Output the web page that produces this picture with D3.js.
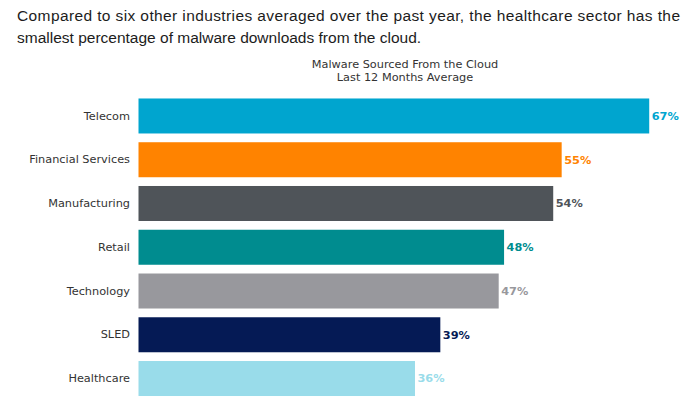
<!DOCTYPE html>
<html>
<head>
<meta charset="utf-8">
<script src="https://cdn.jsdelivr.net/npm/d3@7"></script>
<style>
  html, body { margin: 0; padding: 0; background: #ffffff; }
  svg { display: block; }
</style>
</head>
<body>
<div id="chart"></div>
<script>
// ---- data ----
const categories = ["Telecom", "Financial Services", "Manufacturing", "Retail", "Technology", "SLED", "Healthcare"];
// percentages (labels show them rounded)
const values = [66.5, 55.1, 54.0, 47.6, 46.9, 39.3, 36.0];
const colors = ["#00a5cf", "#ff8300", "#4f5459", "#008c8f", "#98989d", "#051a55", "#99dcea"];
const headlineLines = [
  "Compared to six other industries averaged over the past year, the healthcare sector has the",
  "smallest percentage of malware downloads from the cloud."
];
const chartTitleLines = ["Malware Sourced From the Cloud", "Last 12 Months Average"];

// ---- layout ----
const W = 700, H = 400;
const svg = d3.select("#chart").append("svg").attr("width", W).attr("height", H);

// headline
const headline = svg.append("g")
  .attr("font-family", "'Liberation Sans', Arial, sans-serif")
  .attr("font-size", 15.5)
  .attr("fill", "#1c1c1c");
headline.append("text").attr("x", 17).attr("y", 21)
  .attr("textLength", 663).attr("lengthAdjust", "spacing")
  .text(headlineLines[0]);
headline.append("text").attr("x", 17).attr("y", 43)
  .text(headlineLines[1]);

// chart title
svg.append("g")
  .attr("font-family", "'DejaVu Sans', sans-serif")
  .attr("font-size", 11.3)
  .attr("fill", "#333333")
  .attr("text-anchor", "middle")
  .selectAll("text").data(chartTitleLines).join("text")
  .attr("x", 405)
  .attr("y", (d, i) => 68 + i * 12.5)
  .text(d => d);

// scales
const x = d3.scaleLinear().domain([0, 100]).range([138.5, 906.5]);
const y = d3.scaleBand().domain(categories).range([94.1, 400.4]).paddingInner(0.2).paddingOuter(0.1);

const data = categories.map((c, i) => ({ cat: c, value: values[i], color: colors[i] }));

// bars
svg.append("g").selectAll("rect").data(data).join("rect")
  .attr("x", x(0))
  .attr("y", d => y(d.cat))
  .attr("width", d => x(d.value) - x(0))
  .attr("height", y.bandwidth())
  .attr("fill", d => d.color);

// category axis
const yAxis = svg.append("g")
  .attr("transform", `translate(${x(0) - 8.5},0)`)
  .call(d3.axisLeft(y).tickSize(0).tickPadding(0));
yAxis.select(".domain").remove();
yAxis.selectAll("text")
  .attr("font-family", "'DejaVu Sans', sans-serif")
  .attr("font-size", 11.3)
  .attr("fill", "#333333");

// value labels
const fmt = v => d3.format(".0f")(v) + "%";
svg.append("g").selectAll("text").data(data).join("text")
  .attr("x", d => x(d.value) + 2.5)
  .attr("y", d => y(d.cat) + y.bandwidth() / 2)
  .attr("dy", "0.35em")
  .attr("font-family", "'DejaVu Sans', sans-serif")
  .attr("font-weight", "bold")
  .attr("font-size", 11.3)
  .attr("fill", d => d.color)
  .text(d => fmt(d.value));
</script>
</body>
</html>
